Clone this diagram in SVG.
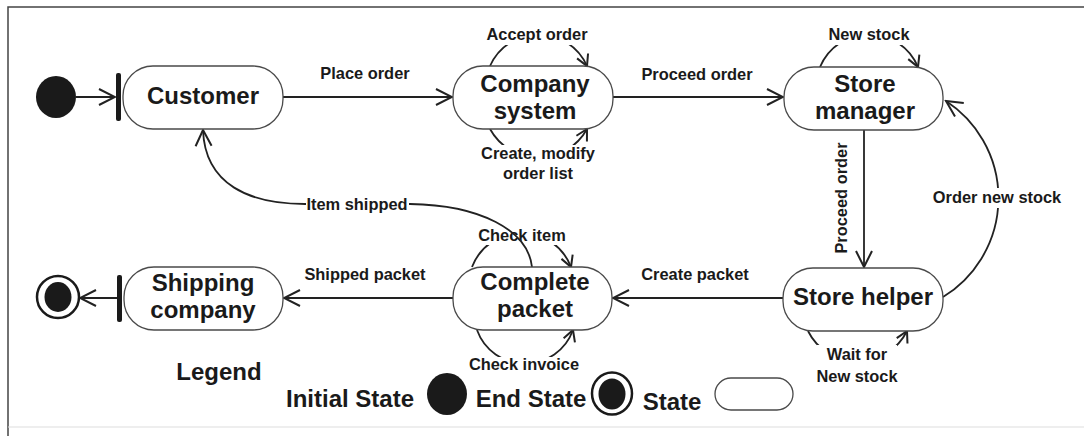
<svg xmlns="http://www.w3.org/2000/svg" width="1084" height="436" viewBox="0 0 1084 436">
<style>
.node{fill:#fff;stroke:#4a4a4a;stroke-width:1.3}
.nt{font-family:"Liberation Sans",Arial,sans-serif;font-weight:bold;font-size:24px;fill:#1a1a1a;text-anchor:middle}
.lb{font-family:"Liberation Sans",Arial,sans-serif;font-weight:bold;font-size:16.4px;fill:#1a1a1a;text-anchor:middle}
.ln{fill:none;stroke:#222;stroke-width:1.8}
.bg{fill:#fff}
.dark{fill:#1a1a1a}
</style>
<defs>
<marker id="ah" markerUnits="userSpaceOnUse" viewBox="-18 -10 20 20" refX="0" refY="0" markerWidth="20" markerHeight="20" orient="auto">
<path d="M-16,-8 L0,0 L-16,8" fill="none" stroke="#222" stroke-width="2"/>
</marker>
<marker id="ahs" markerUnits="userSpaceOnUse" viewBox="-14 -8 16 16" refX="0" refY="0" markerWidth="16" markerHeight="16" orient="auto">
<path d="M-11,-6 L0,0 L-11,6" fill="none" stroke="#222" stroke-width="2"/>
</marker>
</defs>
<rect width="1084" height="436" fill="#fff"/>
<g id="frame">
<path d="M8,436 L8,7 L1084,7" fill="none" stroke="#444" stroke-width="1.5"/>
<line x1="8" y1="427" x2="1084" y2="427" stroke="#ddd" stroke-width="1"/>
</g>
<g id="connectors">
<line class="ln" x1="76" y1="97" x2="115" y2="97" marker-end="url(#ah)"/>
<line class="ln" x1="283" y1="97" x2="452" y2="97" marker-end="url(#ah)"/>
<text class="lb" x="365" y="79">Place order</text>
<line class="ln" x1="613" y1="97" x2="783" y2="97" marker-end="url(#ah)"/>
<text class="lb" x="697" y="80">Proceed order</text>
<line class="ln" x1="864" y1="130" x2="864" y2="267" marker-end="url(#ah)"/>
<text class="lb" x="847" y="198" transform="rotate(-90 847 198)">Proceed order</text>
<line class="ln" x1="783" y1="298" x2="613" y2="298" marker-end="url(#ah)"/>
<text class="lb" x="695" y="280">Create packet</text>
<line class="ln" x1="453" y1="298" x2="284" y2="298" marker-end="url(#ah)"/>
<text class="lb" x="365" y="280">Shipped packet</text>
<line class="ln" x1="117" y1="298" x2="80" y2="298" marker-end="url(#ah)"/>
<path class="ln" d="M943,297 A116,116 0 0 0 946,101" marker-end="url(#ah)"/>
<rect class="bg" x="929" y="188" width="137" height="20"/>
<text class="lb" x="997" y="203">Order new stock</text>
<path class="ln" d="M490,66 A53,53 0 0 1 587,66" marker-end="url(#ahs)"/>
<rect class="bg" x="488" y="26" width="99" height="19"/>
<text class="lb" x="537" y="40">Accept order</text>
<path class="ln" d="M490,129 A55.4,55.4 0 0 0 587,129" marker-end="url(#ahs)"/>
<rect class="bg" x="483" y="145" width="110" height="40"/>
<text class="lb" x="538" y="159">Create, modify</text>
<text class="lb" x="538" y="179">order list</text>
<path class="ln" d="M820,67 A53,53 0 0 1 918,67" marker-end="url(#ahs)"/>
<rect class="bg" x="829" y="26" width="80" height="19"/>
<text class="lb" x="869" y="40">New stock</text>
<path class="ln" d="M808,331 A55.3,55.3 0 0 0 907,331" marker-end="url(#ahs)"/>
<rect class="bg" x="817" y="345" width="80" height="41"/>
<text class="lb" x="857" y="360">Wait for</text>
<text class="lb" x="857" y="382">New stock</text>
<path class="ln" d="M472,267 A53,53 0 0 1 571,267" marker-end="url(#ahs)"/>
<rect class="bg" x="482" y="226" width="81" height="19"/>
<text class="lb" x="522" y="241">Check item</text>
<path class="ln" d="M477,330 A51,51 0 0 0 573,330" marker-end="url(#ahs)"/>
<rect class="bg" x="472" y="357" width="105" height="17"/>
<text class="lb" x="524" y="370">Check invoice</text>
<path class="ln" d="M532,267 C528,230 480,205 410,204 L305,204 C250,204 205,185 203,130" marker-end="url(#ah)"/>
<rect class="bg" x="306" y="196" width="103" height="18"/>
<text class="lb" x="357" y="210">Item shipped</text>
</g>
<g id="initial">
<ellipse class="dark" cx="56" cy="97" rx="20" ry="21"/>
</g>
<g id="bar1">
<rect class="dark" x="116" y="73" width="5" height="48" rx="2"/>
</g>
<g id="customer">
<rect class="node" x="123" y="66" width="160" height="63" rx="30"/>
<text class="nt" x="203" y="104">Customer</text>
</g>
<g id="company-system">
<rect class="node" x="453" y="66" width="160" height="63" rx="30"/>
<text class="nt" x="535" y="92">Company</text>
<text class="nt" x="535" y="119">system</text>
</g>
<g id="store-manager">
<rect class="node" x="784" y="67" width="159" height="63" rx="30"/>
<text class="nt" x="865" y="92">Store</text>
<text class="nt" x="865" y="119">manager</text>
</g>
<g id="store-helper">
<rect class="node" x="783" y="268" width="160" height="63" rx="30"/>
<text class="nt" x="863" y="305">Store helper</text>
</g>
<g id="complete-packet">
<rect class="node" x="453" y="267" width="159" height="63" rx="30"/>
<text class="nt" x="535" y="290">Complete</text>
<text class="nt" x="535" y="317">packet</text>
</g>
<g id="shipping-company">
<rect class="node" x="124" y="267" width="159" height="63" rx="30"/>
<text class="nt" x="203" y="291">Shipping</text>
<text class="nt" x="203" y="318">company</text>
</g>
<g id="bar2">
<rect class="dark" x="117" y="275" width="5" height="47" rx="2"/>
</g>
<g id="end">
<circle cx="58" cy="297" r="21" fill="#fff" stroke="#1a1a1a" stroke-width="2.5"/>
<ellipse class="dark" cx="58" cy="297" rx="13.5" ry="15"/>
</g>
<g id="legend">
<text class="nt" x="219" y="380">Legend</text>
<text class="nt" x="350" y="407">Initial State</text>
<ellipse class="dark" cx="447" cy="394" rx="20" ry="21"/>
<text class="nt" x="531" y="407">End State</text>
<ellipse cx="612" cy="393.5" rx="20" ry="21" fill="#fff" stroke="#1a1a1a" stroke-width="2.5"/>
<ellipse class="dark" cx="612" cy="394" rx="13.5" ry="15.5"/>
<text class="nt" x="672" y="410">State</text>
<rect class="node" x="715" y="378" width="78" height="32" rx="16"/>
</g>
</svg>
